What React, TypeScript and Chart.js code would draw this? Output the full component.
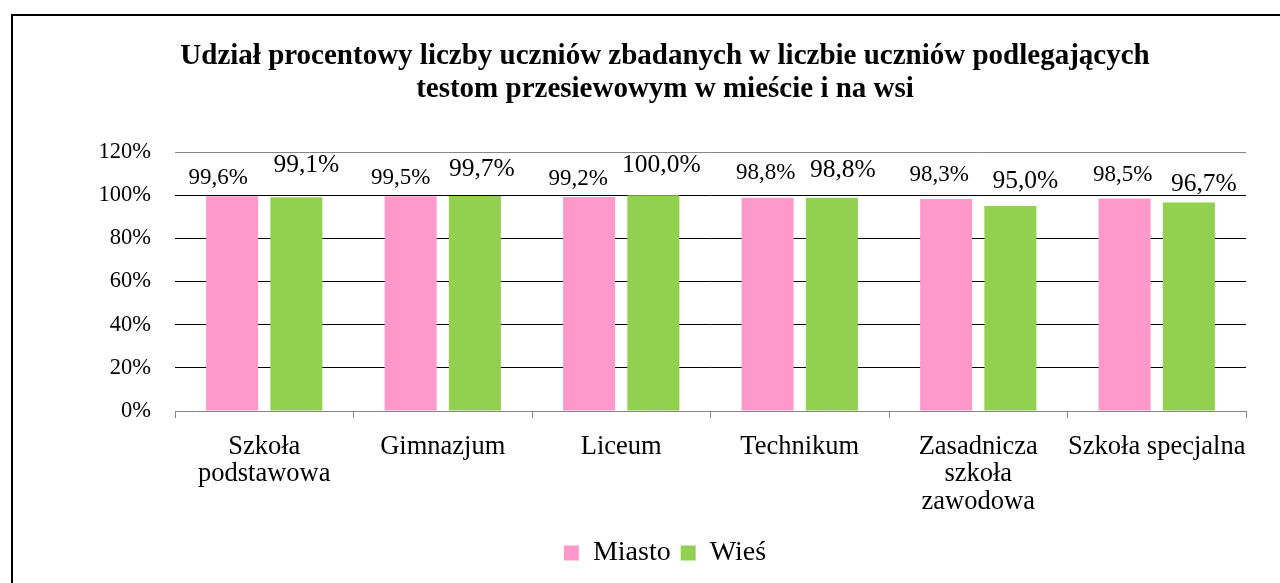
import React, { useEffect, useRef } from "react";
import { Chart, registerables } from "chart.js";

Chart.register(...registerables);

// ---- data ----
const categories: (string | string[])[] = [
  ["Szkoła", "podstawowa"],
  "Gimnazjum",
  "Liceum",
  "Technikum",
  ["Zasadnicza", "szkoła", "zawodowa"],
  "Szkoła specjalna",
];
const seriesNames = ["Miasto", "Wieś"];
const miasto = [99.6, 99.5, 99.2, 98.8, 98.3, 98.5];
const wies = [99.1, 99.7, 100.0, 98.8, 95.0, 96.7];
const yTicks = [0, 20, 40, 60, 80, 100, 120];
const titleLines = [
  "Udział procentowy liczby uczniów zbadanych w liczbie uczniów podlegających",
  "testom przesiewowym w mieście i na wsi",
];

// ---- label styling (offsets relative to bar top, in px) ----
const labelLift = [
  [18, 18, 18, 25, 24, 24],
  [32, 27, 30, 28, 25, 18],
];
const labelShift = [
  [-14, -10, -11, -2, -7, -2],
  [10, 7, 8, 11, 15, 15],
];
const labelFontSize = [23, 25.5];

const FONT = "'Times New Roman', 'Liberation Serif', serif";
const W = 1306;
const H = 600;
const PAD_LEFT = 71;

const dataLabels = {
  id: "dataLabels",
  afterDatasetsDraw(chart: any) {
    const ctx = chart.ctx;
    ctx.save();
    ctx.fillStyle = "#000";
    ctx.textAlign = "center";
    ctx.textBaseline = "middle";
    chart.data.datasets.forEach((ds: any, di: number) => {
      const meta = chart.getDatasetMeta(di);
      ctx.font = `${labelFontSize[di]}px ${FONT}`;
      meta.data.forEach((bar: any, i: number) => {
        const v = ds.data[i] as number;
        const txt = v.toFixed(1).replace(".", ",") + "%";
        ctx.fillText(txt, bar.x + labelShift[di][i], bar.y - labelLift[di][i]);
      });
    });
    ctx.restore();
  },
};

export default function App() {
  const ref = useRef<HTMLCanvasElement>(null);
  useEffect(() => {
    if (!ref.current) return;
    const chart = new Chart(ref.current, {
      type: "bar",
      data: {
        labels: categories,
        datasets: [
          {
            label: seriesNames[0],
            data: miasto,
            backgroundColor: "#FF99CC",
            borderWidth: 0,
            categoryPercentage: 0.72,
            barPercentage: 0.81,
          },
          {
            label: seriesNames[1],
            data: wies,
            backgroundColor: "#92D050",
            borderWidth: 0,
            categoryPercentage: 0.72,
            barPercentage: 0.81,
          },
        ],
      },
      options: {
        responsive: false,
        animation: false,
        devicePixelRatio: 1,
        layout: { padding: { left: PAD_LEFT, right: W - 1233, top: 0, bottom: 39 } },
        plugins: {
          title: {
            display: true,
            text: titleLines,
            color: "#000",
            font: { family: FONT, size: 29, weight: "bold", lineHeight: 1.14 },
            padding: { top: 24, bottom: 46 },
          },
          legend: {
            position: "bottom",
            labels: {
              color: "#000",
              font: { family: FONT, size: 28 },
              boxWidth: 15,
              boxHeight: 15,
              padding: 10,
            },
          },
          tooltip: { enabled: false },
        },
        scales: {
          x: {
            grid: {
              offset: true,
              drawOnChartArea: false,
              drawTicks: true,
              tickLength: 7,
              color: "#868686",
            },
            border: { display: true, color: "#868686", width: 1 },
            ticks: {
              color: "#000",
              font: { family: FONT, size: 26.5, lineHeight: 1.02 },
              padding: 16,
              maxRotation: 0,
              autoSkip: false,
            },
            afterFit(scale: any) {
              scale.height = 118;
            },
          },
          y: {
            min: 0,
            max: 120,
            afterBuildTicks(scale: any) {
              scale.ticks = yTicks.map((v) => ({ value: v }));
            },
            grid: {
              drawTicks: false,
              color: (c: any) =>
                c.tick && (c.tick.value === 120 || c.tick.value === 0) ? "#868686" : "#000",
              lineWidth: 1,
            },
            border: { display: false },
            ticks: {
              color: "#000",
              font: { family: FONT, size: 22.5 },
              padding: 24,
              callback: (v: any) => v + "%",
            },
            afterFit(scale: any) {
              scale.width = 162 - PAD_LEFT;
            },
          },
        },
      },
      plugins: [dataLabels],
    });
    return () => chart.destroy();
  }, []);

  return (
    <div
      style={{
        position: "fixed",
        left: 0,
        top: 0,
        width: 1280,
        height: 583,
        overflow: "hidden",
        background: "#fff",
      }}
    >
      <div
        style={{
          position: "absolute",
          left: 11,
          top: 14,
          width: W,
          height: H,
          border: "2px solid #000",
          background: "#fff",
        }}
      >
        <canvas ref={ref} width={W} height={H} style={{ display: "block" }} />
      </div>
    </div>
  );
}
